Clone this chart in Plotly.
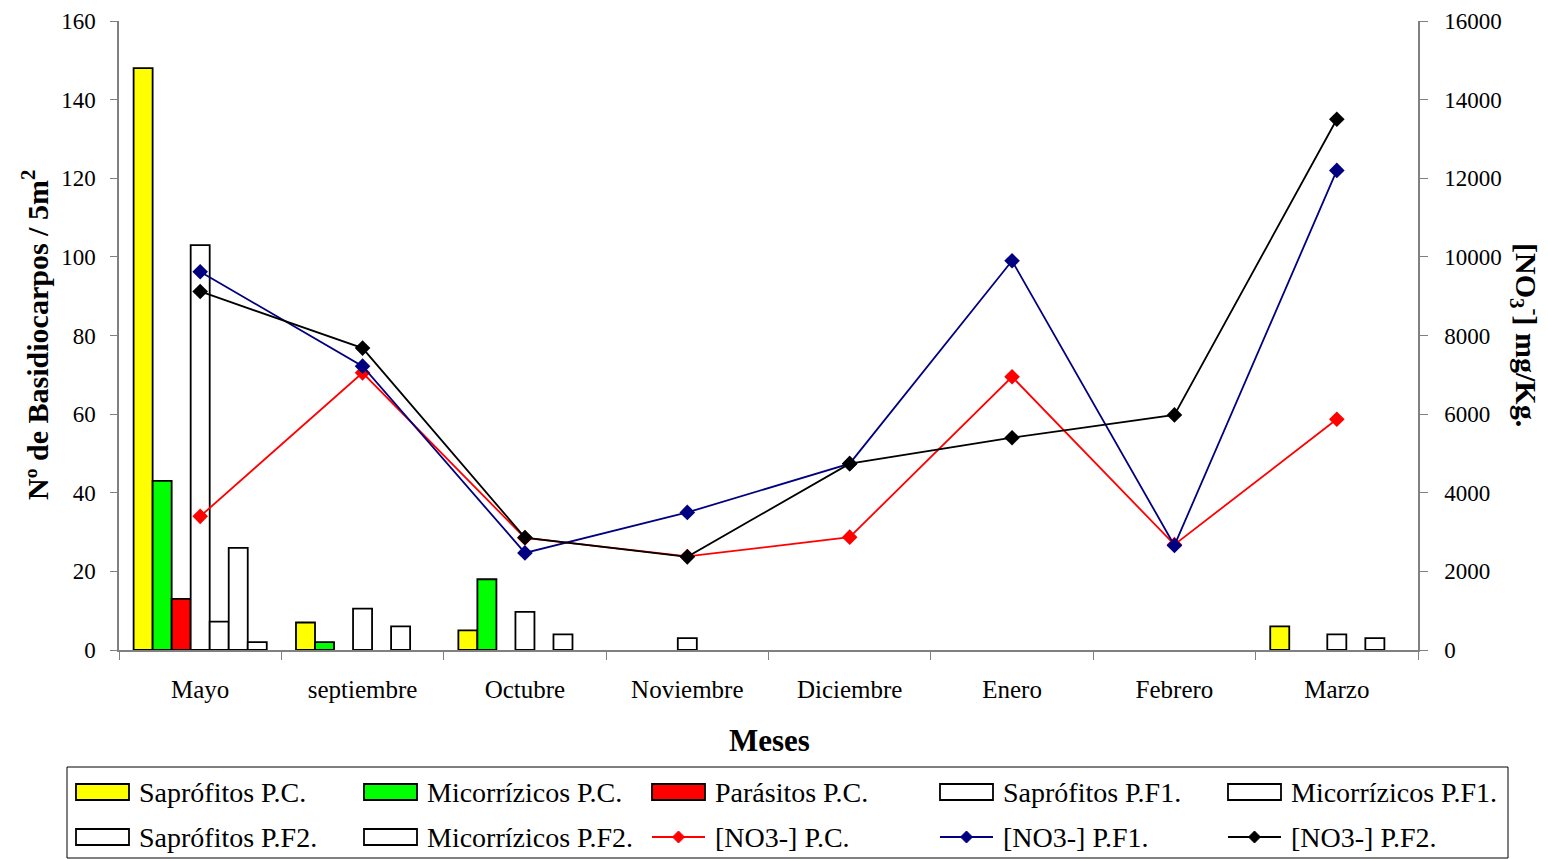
import plotly.graph_objects as go

meses = ["Mayo", "septiembre", "Octubre", "Noviembre", "Diciembre", "Enero", "Febrero", "Marzo"]

sapr_pc = [148, 7, 5, 0, 0, 0, 0, 6]
micor_pc = [43, 2, 18, 0, 0, 0, 0, 0]
paras_pc = [13, 0, 0, 0, 0, 0, 0, 0]
sapr_pf1 = [103, 10.5, 9.7, 3, 0, 0, 0, 4]
micor_pf1 = [7.2, 0, 0, 0, 0, 0, 0, 0]
sapr_pf2 = [26, 6, 4, 0, 0, 0, 0, 3]
micor_pf2 = [2, 0, 0, 0, 0, 0, 0, 0]

no3_pc = [3400, 7050, 2850, 2380, 2870, 6950, 2680, 5870]
no3_pf1 = [9620, 7220, 2470, 3500, 4740, 9900, 2660, 12200]
no3_pf2 = [9120, 7680, 2860, 2370, 4740, 5400, 5980, 13500]

bar_series = [
    ("Saprófitos P.C.", sapr_pc, "#FFFF00"),
    ("Micorrízicos P.C.", micor_pc, "#00FF00"),
    ("Parásitos P.C.", paras_pc, "#FF0000"),
    ("Saprófitos P.F1.", sapr_pf1, "#FFFFFF"),
    ("Micorrízicos P.F1.", micor_pf1, "#FFFFFF"),
    ("Saprófitos P.F2.", sapr_pf2, "#FFFFFF"),
    ("Micorrízicos P.F2.", micor_pf2, "#FFFFFF"),
]
line_series = [
    ("[NO3-] P.C.", no3_pc, "#FF0000"),
    ("[NO3-] P.F1.", no3_pf1, "#000080"),
    ("[NO3-] P.F2.", no3_pf2, "#000000"),
]

FONT = "Liberation Serif, Times New Roman, serif"
OFF = 8  # page body margin
W, H = 1549 - OFF, 859 - OFF
# plot area in page pixels
L, R, T, B = 119, 1418, 21, 650
PW, PH = R - L, B - T

fig = go.Figure()
for name, vals, col in bar_series:
    fig.add_trace(go.Bar(x=meses, y=vals, name=name,
                         marker=dict(color=col, line=dict(color="black", width=[1.8 if v > 0 else 0 for v in vals])),
                         showlegend=False))
for name, vals, col in line_series:
    fig.add_trace(go.Scatter(x=meses, y=vals, name=name, yaxis="y2", mode="lines+markers",
                             line=dict(color=col, width=1.8),
                             marker=dict(symbol="diamond", size=12, color=col),
                             showlegend=False))

def px(x):
    return (x - L) / PW

def py(y):
    return (B - y) / PH

shapes = []
annotations = []
shapes.append(dict(type="rect", xref="paper", yref="paper", x0=px(67), x1=px(1508), y0=py(858), y1=py(767),
                   line=dict(color="black", width=1), fillcolor="rgba(0,0,0,0)"))
legend_items = [(n, c, "bar") for n, _, c in bar_series] + [(n, c, "line") for n, _, c in line_series]
col_x = [76, 364, 652, 940, 1228]
row_y = [792, 837]
for i, (name, col, kind) in enumerate(legend_items):
    r, c = divmod(i, 5)
    x0 = col_x[c]
    yc = row_y[r]
    if kind == "bar":
        shapes.append(dict(type="rect", xref="paper", yref="paper", x0=px(x0), x1=px(x0 + 53),
                           y0=py(yc + 8), y1=py(yc - 8), fillcolor=col, line=dict(color="black", width=1.8)))
    else:
        shapes.append(dict(type="line", xref="paper", yref="paper", x0=px(x0), x1=px(x0 + 53),
                           y0=py(yc), y1=py(yc), line=dict(color=col, width=2)))
        xm = x0 + 26.5
        d = 6
        path = "M {} {} L {} {} L {} {} L {} {} Z".format(px(xm - d), py(yc), px(xm), py(yc - d),
                                                        px(xm + d), py(yc), px(xm), py(yc + d))
        shapes.append(dict(type="path", xref="paper", yref="paper", path=path, fillcolor=col,
                           line=dict(color=col, width=1)))
    annotations.append(dict(text=name, xref="paper", yref="paper", x=px(x0 + 61), y=py(yc),
                            xanchor="left", yanchor="middle", showarrow=False,
                            font=dict(family=FONT, size=28, color="black")))

annotations.append(dict(text="<b>Nº de Basidiocarpos / 5m<sup>2</sup></b>", xref="paper", yref="paper",
                        x=px(35), y=py(335), textangle=-90, showarrow=False, xanchor="center", yanchor="middle",
                        font=dict(family=FONT, size=30, color="black")))
annotations.append(dict(text="<b>[NO<sub>3</sub><sup>-</sup>] mg/Kg.</b>", xref="paper", yref="paper",
                        x=px(1527), y=py(335), textangle=90, showarrow=False, xanchor="center", yanchor="middle",
                        font=dict(family=FONT, size=30, color="black")))
annotations.append(dict(text="<b>Meses</b>", xref="paper", yref="paper",
                        x=px(769), y=py(740), showarrow=False, xanchor="center", yanchor="middle",
                        font=dict(family=FONT, size=31, color="black")))

fig.update_layout(
    width=W, height=H,
    margin=dict(l=L - OFF, r=(1549 - R), t=T - OFF, b=(859 - B), autoexpand=False),
    paper_bgcolor="white", plot_bgcolor="white",
    barmode="group", bargap=0.18, bargroupgap=0,
    font=dict(family=FONT, size=23, color="black"),
    xaxis=dict(showline=True, linecolor="#808080", linewidth=1.5, ticks="outside", tickson="boundaries",
               ticklen=8, tickcolor="#808080", showgrid=False, tickfont=dict(size=25), ticklabelstandoff=16),
    yaxis=dict(range=[0, 160], dtick=20, showline=True, linecolor="#808080", linewidth=1.5, ticks="outside",
               ticklen=7, tickcolor="#808080", showgrid=False, zeroline=False, tickfont=dict(size=23),
               ticklabelstandoff=10),
    yaxis2=dict(range=[0, 16000], dtick=2000, tickformat="d", overlaying="y", side="right", showline=True,
                linecolor="#808080", linewidth=1.5, ticks="outside", ticklen=8, tickcolor="#808080",
                showgrid=False, zeroline=False, tickfont=dict(size=23), ticklabelstandoff=12),
    shapes=shapes, annotations=annotations, showlegend=False,
)

fig.write_html("out.html")
